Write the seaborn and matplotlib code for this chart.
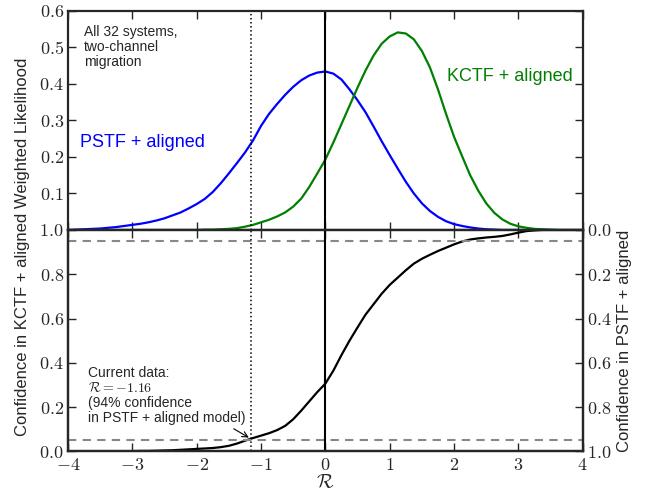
import matplotlib
matplotlib.use("Agg")
import matplotlib.pyplot as plt
import matplotlib.ticker as mticker
import seaborn as sns
import pandas as pd

r_grid = [-4.0, -3.875, -3.75, -3.625, -3.5, -3.375, -3.25, -3.125,
          -3.0, -2.875, -2.75, -2.625, -2.5, -2.375, -2.25, -2.125,
          -2.0, -1.875, -1.75, -1.625, -1.5, -1.375, -1.25, -1.125,
          -1.0, -0.875, -0.75, -0.625, -0.5, -0.375, -0.25, -0.125,
          0.0, 0.125, 0.25, 0.375, 0.5, 0.625, 0.75, 0.875,
          1.0, 1.125, 1.25, 1.375, 1.5, 1.625, 1.75, 1.875,
          2.0, 2.125, 2.25, 2.375, 2.5, 2.625, 2.75, 2.875,
          3.0, 3.125, 3.25, 3.375, 3.5, 3.625, 3.75, 3.875, 4.0]
pstf_like = [0.000, 0.001, 0.002, 0.003, 0.004, 0.006, 0.008, 0.011,
             0.014, 0.017, 0.021, 0.026, 0.032, 0.040, 0.048, 0.059,
             0.071, 0.085, 0.104, 0.128, 0.155, 0.183, 0.212, 0.245,
             0.285, 0.318, 0.345, 0.370, 0.392, 0.410, 0.423, 0.431,
             0.434, 0.428, 0.412, 0.385, 0.355, 0.322, 0.283, 0.243,
             0.205, 0.168, 0.132, 0.100, 0.073, 0.052, 0.036, 0.024,
             0.016, 0.011, 0.007, 0.004, 0.002, 0.001, 0.000, 0.000,
             0.000, 0.000, 0.000, 0.000, 0.000, 0.000, 0.000, 0.000, 0.000]
kctf_like = [0.000, 0.000, 0.000, 0.000, 0.000, 0.000, 0.000, 0.000,
             0.000, 0.000, 0.000, 0.000, 0.000, 0.000, 0.000, 0.000,
             0.000, 0.001, 0.001, 0.002, 0.003, 0.005, 0.009, 0.014,
             0.021, 0.028, 0.037, 0.048, 0.064, 0.086, 0.118, 0.155,
             0.193, 0.240, 0.290, 0.340, 0.390, 0.437, 0.478, 0.510,
             0.530, 0.541, 0.538, 0.522, 0.490, 0.445, 0.385, 0.318,
             0.255, 0.202, 0.150, 0.108, 0.073, 0.047, 0.029, 0.017,
             0.010, 0.006, 0.003, 0.002, 0.001, 0.000, 0.000, 0.000, 0.000]
kctf_conf = [0.000, 0.000, 0.000, 0.000, 0.000, 0.000, 0.001, 0.001,
             0.001, 0.002, 0.002, 0.003, 0.004, 0.005, 0.007, 0.009,
             0.011, 0.013, 0.015, 0.019, 0.025, 0.035, 0.048, 0.060,
             0.071, 0.082, 0.096, 0.115, 0.145, 0.184, 0.226, 0.268,
             0.306, 0.365, 0.435, 0.500, 0.560, 0.618, 0.665, 0.712,
             0.752, 0.785, 0.818, 0.848, 0.870, 0.888, 0.905, 0.920,
             0.935, 0.948, 0.957, 0.962, 0.966, 0.969, 0.973, 0.980,
             0.988, 0.995, 0.998, 1.000, 1.000, 1.000, 1.000, 1.000, 1.000]

r_current = -1.16
conf_levels = [0.05, 0.95]
x_ticks = [-4, -3, -2, -1, 0, 1, 2, 3, 4]
top_yticks = [0.0, 0.1, 0.2, 0.3, 0.4, 0.5, 0.6]
bottom_yticks = [0.0, 0.2, 0.4, 0.6, 0.8, 1.0]

df = pd.DataFrame({"R": r_grid, "pstf": pstf_like, "kctf": kctf_like, "conf": kctf_conf})

sns.set_style("ticks")
plt.rcParams["font.family"] = ["Liberation Sans", "DejaVu Sans"]
plt.rcParams["mathtext.fontset"] = "cm"

fig = plt.figure(figsize=(6.57, 4.93), dpi=100)
ax_top = fig.add_axes([0.1035, 0.5335, 0.7835, 0.4445])
ax_bot = fig.add_axes([0.1035, 0.0845, 0.7835, 0.449])


def yfmt(v, p):
    return "$%.1f$" % v


xfmt = mticker.FuncFormatter(lambda v, p: "$%d$" % round(v))

# top panel: weighted likelihoods
sns.lineplot(data=df, x="R", y="pstf", ax=ax_top, color="blue", lw=1.6)
sns.lineplot(data=df, x="R", y="kctf", ax=ax_top, color="green", lw=1.6)
ax_top.axvline(0, color="black", lw=1.5)
ax_top.axvline(r_current, color="black", lw=1.1, ls=":")
ax_top.set_xlim(-4, 4)
ax_top.set_ylim(0, 0.6)
ax_top.set_xticks(x_ticks)
ax_top.set_yticks(top_yticks)
ax_top.set_xticklabels([])
ax_top.yaxis.set_major_formatter(mticker.FuncFormatter(lambda v, p: "" if v < 0.05 else yfmt(v, p)))
ax_top.set_xlabel("")
ax_top.set_ylabel("")
ax_top.text(-3.75, 0.56, "All 32 systems,\ntwo-channel\nmigration", fontsize=10, va="top",
            linespacing=1.05)
ax_top.text(-3.81, 0.24, "PSTF + aligned", color="blue", fontsize=13, va="center")
ax_top.text(3.84, 0.42, "KCTF + aligned", color="green", fontsize=13, va="center", ha="right")

# bottom panel: confidence
sns.lineplot(data=df, x="R", y="conf", ax=ax_bot, color="black", lw=1.6)
for c in conf_levels:
    ax_bot.axhline(c, color="#888888", lw=1.5, ls=(0, (4, 3)))
ax_bot.axvline(0, color="black", lw=1.5)
ax_bot.axvline(r_current, color="black", lw=1.1, ls=":")
ax_bot.set_xlim(-4, 4)
ax_bot.set_ylim(0, 1)
ax_bot.set_xticks(x_ticks)
ax_bot.set_yticks(bottom_yticks)
ax_bot.xaxis.set_major_formatter(xfmt)
ax_bot.yaxis.set_major_formatter(mticker.FuncFormatter(yfmt))
ax_bot.set_xlabel(r"$\mathcal{R}$", fontsize=14, labelpad=0)
ax_bot.set_ylabel("")
ax_bot.annotate("Current data:\n$\\mathcal{R} = -1.16$\n(94% confidence\nin PSTF + aligned model)",
                xy=(-1.19, 0.062), xytext=(-3.69, 0.117), fontsize=10, va="bottom",
                linespacing=1.1,
                arrowprops=dict(arrowstyle="->", color="black", lw=0.8,
                                relpos=(0.89, 0.0), shrinkA=0, shrinkB=0))

ax_r = ax_bot.twinx()
ax_r.set_ylim(1, 0)
ax_r.set_yticks(bottom_yticks)
ax_r.yaxis.set_major_formatter(mticker.FuncFormatter(yfmt))
ax_r.set_ylabel("Confidence in PSTF + aligned", fontsize=12, labelpad=4)

for ax in (ax_top, ax_bot, ax_r):
    for s in ax.spines.values():
        s.set_linewidth(1.6)
        s.set_visible(True)
    ax.tick_params(direction="in", length=6, width=1, labelsize=13, pad=3)
ax_top.tick_params(top=True, right=True)
ax_bot.tick_params(top=True, right=False)
ax_bot.tick_params(axis="x", pad=4)

fig.text(0.035, 0.5, "Confidence in KCTF + aligned Weighted Likelihood", rotation=90,
         fontsize=12, va="center", ha="center")

fig.savefig("out.png", dpi=100)
